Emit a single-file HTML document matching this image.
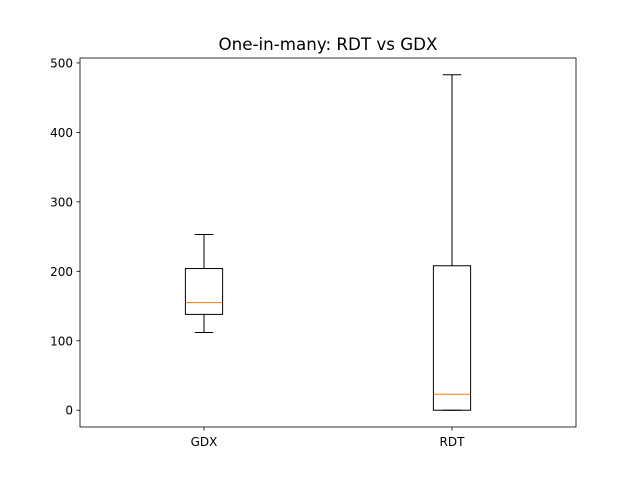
<!DOCTYPE html>
<html><head><meta charset="utf-8"><style>
body{margin:0;background:#fff}
svg{display:block;font-family:"DejaVu Sans","Liberation Sans",sans-serif}
</style></head><body>
<svg id="chart" width="640" height="480">
<rect width="640" height="480" fill="#fff"/>
<text x="328" y="50" text-anchor="middle" font-size="16.7">One-in-many: RDT vs GDX</text>
<g id="plot"></g>
<rect x="80" y="58" width="496" height="369" fill="none" stroke="#000" stroke-width="0.8"/>
</svg>
<script>
const categories = ["GDX", "RDT"];
const whiskerLow = [112, 0];
const q1 = [138, 0];
const median = [155, 23];
const q3 = [204, 208];
const whiskerHigh = [253, 483];
const yTicks = [0, 100, 200, 300, 400, 500];

const L=80,R=576,T=58,B=427;
const ymin=-24.15,ymax=507.15;
const y=v=>B-(v-ymin)/(ymax-ymin)*(B-T);
const x=i=>L+((i+1)-0.5)/2*(R-L);
const g=document.getElementById('plot');
const NS='http://www.w3.org/2000/svg';
function mk(tag,attrs,parent){const e=document.createElementNS(NS,tag);for(const k in attrs)e.setAttribute(k,attrs[k]);(parent||g).appendChild(e);return e;}
yTicks.forEach(t=>{
  const yy=y(t);
  const tk=mk('line',{x1:L-3.5,x2:L,y1:yy,y2:yy,stroke:'#000','stroke-width':0.8});
  
  
  const tx=mk('text',{x:L-7,y:yy+4.5,'text-anchor':'end','font-size':12});
  tx.textContent=t;
  
  
});
const bw=0.15*(R-L)/2, cw=bw/2;
categories.forEach((c,i)=>{
  const cx=x(i);
  const grp=mk('g',{});
  
  
  const s={stroke:'#000','stroke-width':1,fill:'none'};
  mk('line',Object.assign({x1:cx,x2:cx,y1:y(q1[i]),y2:y(whiskerLow[i])},s),grp);
  mk('line',Object.assign({x1:cx,x2:cx,y1:y(q3[i]),y2:y(whiskerHigh[i])},s),grp);
  mk('line',Object.assign({x1:cx-cw/2,x2:cx+cw/2,y1:y(whiskerLow[i]),y2:y(whiskerLow[i])},s),grp);
  mk('line',Object.assign({x1:cx-cw/2,x2:cx+cw/2,y1:y(whiskerHigh[i]),y2:y(whiskerHigh[i])},s),grp);
  mk('rect',Object.assign({x:cx-bw/2,y:y(q3[i]),width:bw,height:y(q1[i])-y(q3[i])},s),grp);
  mk('line',{x1:cx-bw/2,x2:cx+bw/2,y1:y(median[i]),y2:y(median[i]),stroke:'#ff7f0e','stroke-width':1},grp);
  const tk=mk('line',{x1:cx,x2:cx,y1:B,y2:B+3.5,stroke:'#000','stroke-width':0.8});
  
  
  const tx=mk('text',{x:cx,y:B+19,'text-anchor':'middle','font-size':12});
  tx.textContent=c;
  
  
});
</script>
</body></html>
